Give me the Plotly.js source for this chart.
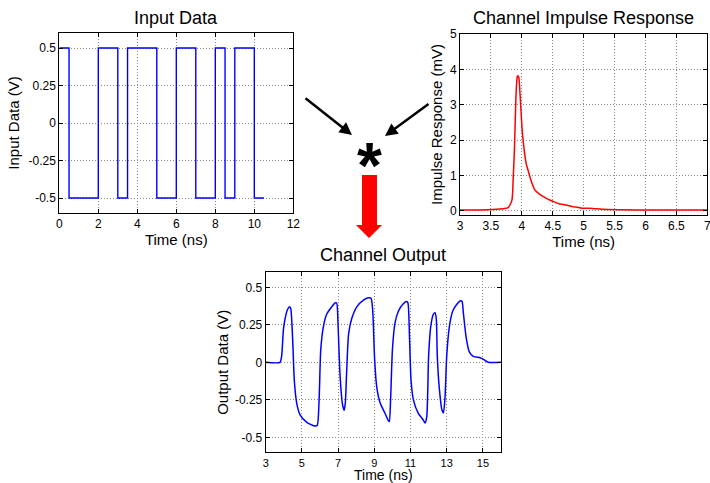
<!DOCTYPE html>
<html>
<head>
<meta charset="utf-8">
<script src="https://cdn.plot.ly/plotly-3.0.1.min.js"></script>
<style>html,body{margin:0;padding:0;background:#fff;}#chart{width:710px;height:483px;}</style>
</head>
<body>
<div id="chart"></div>
<script>
// ---- Input data (square wave, step-after) ----
var inputTime = [0, 0.5, 2, 3, 3.5, 5, 6, 7, 8, 8.5, 9, 10, 10.5];
var inputLevel = [0.5, -0.5, 0.5, -0.5, 0.5, -0.5, 0.5, -0.5, 0.5, -0.5, 0.5, -0.5, -0.5];

// ---- Channel impulse response (mV) ----
var impulseTime = [3, 3.3, 3.59, 3.7, 3.78, 3.84, 3.86, 3.88, 3.905, 3.92, 3.93, 3.95, 3.97, 4.01, 4.07, 4.1, 4.15, 4.21, 4.28, 4.35, 4.43, 4.51, 4.6, 4.67, 4.75, 4.83, 4.9, 4.99, 5.08, 5.16, 5.3, 5.59, 6.13, 7];
var impulseValue = [0.02, 0.02, 0.04, 0.06, 0.09, 0.3, 0.9, 1.72, 3.23, 3.7, 3.82, 3.78, 3.33, 2.19, 1.34, 1.15, 0.85, 0.59, 0.48, 0.4, 0.32, 0.26, 0.2, 0.18, 0.15, 0.11, 0.1, 0.07, 0.07, 0.06, 0.04, 0.03, 0.02, 0.02];

// ---- Channel output (V) ----
var outputTime = [3, 3.79, 3.88, 3.98, 4.07, 4.2, 4.31, 4.38, 4.49, 4.58, 4.71, 4.9, 5.27, 5.73, 5.85, 5.95, 6.04, 6.19, 6.37, 6.65, 6.83, 6.92, 7.0, 7.1, 7.23, 7.33, 7.4, 7.47, 7.58, 7.75, 8.03, 8.4, 8.67, 8.82, 8.91, 9.02, 9.13, 9.32, 9.59, 9.78, 9.83, 9.9, 10.0, 10.14, 10.33, 10.6, 10.79, 10.86, 10.94, 11.03, 11.16, 11.43, 11.71, 11.8, 11.9, 12.0, 12.12, 12.26, 12.36, 12.43, 12.48, 12.6, 12.74, 12.82, 12.91, 13.0, 13.15, 13.33, 13.55, 13.77, 13.85, 13.92, 14.07, 14.25, 14.47, 14.84, 15.03, 15.3, 16];
var outputValue = [0, 0.0, 0.04, 0.22, 0.29, 0.35, 0.37, 0.36, 0.15, -0.12, -0.27, -0.35, -0.4, -0.425, -0.42, -0.25, 0.08, 0.24, 0.32, 0.37, 0.395, 0.395, 0.24, -0.07, -0.27, -0.32, -0.27, -0.07, 0.19, 0.29, 0.37, 0.415, 0.43, 0.427, 0.35, 0.015, -0.16, -0.27, -0.34, -0.39, -0.395, -0.25, 0.08, 0.26, 0.34, 0.39, 0.405, 0.395, 0.19, -0.12, -0.25, -0.34, -0.385, -0.405, -0.36, 0.04, 0.24, 0.32, 0.33, 0.28, 0.04, -0.185, -0.32, -0.336, -0.23, 0.04, 0.24, 0.34, 0.385, 0.41, 0.405, 0.33, 0.17, 0.07, 0.04, 0.03, 0.02, 0.0, 0];

// ---- Tick labels ----
var voltTickVals = [-0.5, -0.25, 0, 0.25, 0.5];
var voltTickText = ['-0.5', '-0.25', '0', '0.25', '0.5'];
var inputXTicks = [0, 2, 4, 6, 8, 10, 12];
var impulseXTicks = [3, 3.5, 4, 4.5, 5, 5.5, 6, 6.5, 7];
var impulseYTicks = [0, 1, 2, 3, 4, 5];
var outputXTicks = [3, 5, 7, 9, 11, 13, 15];

var W = 710, H = 483;
function px(x) { return x / W; }
function py(y) { return 1 - y / H; }

var FONT = 'Liberation Sans, Arial, sans-serif';

function axisBase(extra) {
  var a = {
    showline: true, mirror: 'ticks', linecolor: '#000', linewidth: 1,
    ticks: 'inside', ticklen: 4, tickcolor: '#000',
    showgrid: true, gridcolor: '#8a8a8a', griddash: '1px,2px', gridwidth: 1,
    zeroline: false, tickfont: {family: FONT, size: 12, color: '#000'},
    ticklabeloverflow: 'allow', fixedrange: true
  };
  for (var k in extra) a[k] = extra[k];
  return a;
}

var traces = [
  {x: inputTime, y: inputLevel, type: 'scatter', mode: 'lines', line: {shape: 'hv', color: '#0000ff', width: 1.4}, xaxis: 'x', yaxis: 'y', hoverinfo: 'skip'},
  {x: impulseTime, y: impulseValue, type: 'scatter', mode: 'lines', line: {shape: 'spline', smoothing: 0.6, color: '#ff0000', width: 1.5}, xaxis: 'x2', yaxis: 'y2', hoverinfo: 'skip'},
  {x: outputTime, y: outputValue, type: 'scatter', mode: 'lines', line: {shape: 'spline', smoothing: 0.6, color: '#0000ff', width: 1.5}, xaxis: 'x3', yaxis: 'y3', hoverinfo: 'skip'}
];

var titleFont = {family: FONT, size: 18, color: '#000'};
var axTitleFont = {family: FONT, size: 15, color: '#000'};

var layout = {
  width: W, height: H,
  margin: {l: 0, r: 0, t: 0, b: 0},
  paper_bgcolor: '#fff', plot_bgcolor: '#fff',
  showlegend: false,
  xaxis: axisBase({domain: [px(59.3), px(293.3)], range: [0, 12], tickvals: inputXTicks, anchor: 'y',
    title: {text: 'Time (ns)', font: axTitleFont, standoff: 1}}),
  yaxis: axisBase({domain: [py(213), py(33)], range: [-0.6, 0.6], tickvals: voltTickVals, ticktext: voltTickText, anchor: 'x',
    title: {text: 'Input Data (V)', font: axTitleFont, standoff: 5}}),
  xaxis2: axisBase({domain: [px(460), px(707.3)], range: [3, 7], tickvals: impulseXTicks, anchor: 'y2',
    title: {text: 'Time (ns)', font: axTitleFont, standoff: 1}}),
  yaxis2: axisBase({domain: [py(215), py(34)], range: [-0.12, 5], tickvals: impulseYTicks, anchor: 'x2',
    title: {text: 'Impulse Response (mV)', font: axTitleFont, standoff: 3}}),
  xaxis3: axisBase({domain: [px(265.7), px(501)], range: [3, 16], tickvals: outputXTicks, anchor: 'y3',
    tickfont: {family: FONT, size: 11, color: '#000'},
    title: {text: 'Time (ns)', font: {family: FONT, size: 14, color: '#000'}, standoff: 0}}),
  yaxis3: axisBase({domain: [py(452.3), py(272.3)], range: [-0.6, 0.6], tickvals: voltTickVals, ticktext: voltTickText, anchor: 'x3',
    title: {text: 'Output Data (V)', font: axTitleFont, standoff: 2}}),
  annotations: [
    {text: 'Input Data', xref: 'paper', yref: 'paper', x: px(176), y: py(18), showarrow: false, font: titleFont, xanchor: 'center', yanchor: 'middle'},
    {text: 'Channel Impulse Response', xref: 'paper', yref: 'paper', x: px(583), y: py(18), showarrow: false, font: titleFont, xanchor: 'center', yanchor: 'middle'},
    {text: 'Channel Output', xref: 'paper', yref: 'paper', x: px(383), y: py(255), showarrow: false, font: titleFont, xanchor: 'center', yanchor: 'middle'},
    {text: '', xref: 'paper', yref: 'paper', x: px(352), y: py(135), ax: -48, ay: -38, showarrow: true, arrowhead: 2, arrowsize: 1, arrowwidth: 2.5, arrowcolor: '#000'},
    {text: '', xref: 'paper', yref: 'paper', x: px(385), y: py(136), ax: 45, ay: -33, showarrow: true, arrowhead: 2, arrowsize: 1, arrowwidth: 2.5, arrowcolor: '#000'},
    {text: '<b>*</b>', xref: 'paper', yref: 'paper', x: px(369), y: py(152), showarrow: false, font: {family: FONT, size: 64, color: '#000'}, xanchor: 'center', yanchor: 'middle', yshift: -14}
  ],
  shapes: [
    {type: 'path', xref: 'paper', yref: 'paper', fillcolor: '#ff0000', line: {width: 0},
     path: 'M ' + px(362) + ' ' + py(175) + ' L ' + px(377) + ' ' + py(175) + ' L ' + px(377) + ' ' + py(225) +
           ' L ' + px(382) + ' ' + py(225) + ' L ' + px(369) + ' ' + py(238) + ' L ' + px(356) + ' ' + py(225) +
           ' L ' + px(362) + ' ' + py(225) + ' Z'}
  ]
};

Plotly.newPlot('chart', traces, layout, {displayModeBar: false, staticPlot: true});
</script>
</body>
</html>
